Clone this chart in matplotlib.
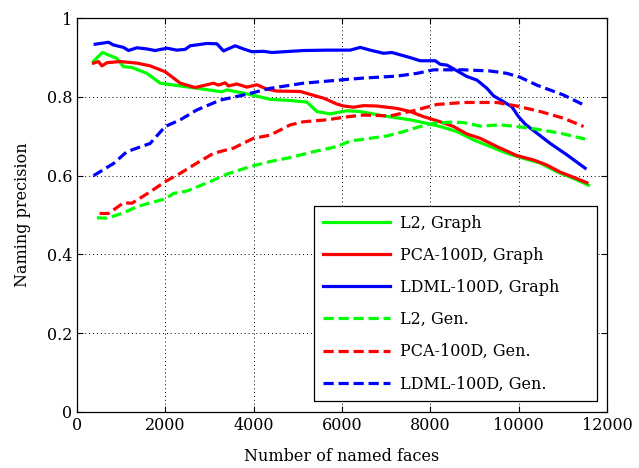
import matplotlib
matplotlib.use('Agg')
import matplotlib.pyplot as plt

plt.rcParams['font.family'] = ['DejaVu Serif']

# L2, Graph
l2_graph_x = [374, 577, 903, 1053, 1243, 1582, 1884, 2337, 2864, 3280, 3393, 3846, 4374,
              4827, 5205, 5431, 5732, 6110, 6412, 6940, 7543, 7921, 8223, 8601, 8977,
              9355, 9732, 10109, 10487, 10864, 11241, 11580]
l2_graph_y = [0.891, 0.913, 0.898, 0.877, 0.875, 0.860, 0.835, 0.828, 0.820, 0.813, 0.818,
              0.808, 0.794, 0.791, 0.787, 0.763, 0.757, 0.765, 0.763, 0.752, 0.742, 0.733,
              0.725, 0.712, 0.691, 0.674, 0.657, 0.644, 0.632, 0.610, 0.593, 0.576]

# PCA-100D, Graph
pca_graph_x = [374, 487, 563, 676, 978, 1356, 1657, 1997, 2337, 2676, 3091, 3204, 3355,
               3431, 3619, 3846, 4073, 4299, 4525, 5053, 5581, 5884, 6034, 6260, 6487,
               6789, 7242, 7543, 7845, 8223, 8524, 8827, 9128, 9506, 9959, 10336, 10638,
               10940, 11241, 11543]
pca_graph_y = [0.886, 0.890, 0.879, 0.887, 0.890, 0.886, 0.879, 0.864, 0.835, 0.824, 0.835,
               0.830, 0.836, 0.828, 0.833, 0.825, 0.831, 0.820, 0.815, 0.814, 0.797, 0.782,
               0.777, 0.774, 0.778, 0.777, 0.771, 0.763, 0.750, 0.737, 0.725, 0.706, 0.695,
               0.674, 0.651, 0.640, 0.627, 0.609, 0.596, 0.582]

# LDML-100D, Graph
ldml_graph_x = [412, 713, 826, 1053, 1166, 1356, 1582, 1770, 2035, 2261, 2450, 2563, 2941,
                3167, 3317, 3582, 3770, 3960, 4223, 4412, 5128, 5657, 6185, 6412, 6638,
                6940, 7129, 7543, 7770, 8110, 8223, 8374, 8562, 8827, 9053, 9280, 9430,
                9656, 9845, 9996, 10147, 10412, 10713, 11090, 11505]
ldml_graph_y = [0.934, 0.939, 0.932, 0.926, 0.918, 0.925, 0.922, 0.918, 0.924, 0.919, 0.921,
                0.930, 0.936, 0.935, 0.917, 0.930, 0.922, 0.915, 0.916, 0.913, 0.918, 0.919,
                0.919, 0.926, 0.919, 0.911, 0.913, 0.900, 0.892, 0.892, 0.883, 0.881, 0.869,
                0.852, 0.843, 0.822, 0.803, 0.788, 0.775, 0.750, 0.731, 0.708, 0.682, 0.653,
                0.619]

# L2, Gen.
l2_gen_x = [450, 676, 1017, 1356, 1657, 1997, 2186, 2488, 3016, 3393, 3921, 4374, 4827,
            5355, 5884, 6185, 6638, 7016, 7392, 7770, 8072, 8450, 8751, 9128, 9581, 9959,
            10412, 10940, 11505]
l2_gen_y = [0.493, 0.492, 0.504, 0.521, 0.531, 0.541, 0.555, 0.561, 0.585, 0.604, 0.623,
            0.636, 0.646, 0.661, 0.674, 0.688, 0.695, 0.701, 0.712, 0.725, 0.733, 0.736,
            0.735, 0.726, 0.729, 0.725, 0.718, 0.708, 0.693]

# PCA-100D, Gen.
pca_gen_x = [510, 714, 1053, 1243, 1657, 1997, 2337, 2714, 3091, 3543, 3996, 4374, 4827,
             5128, 5657, 6148, 6487, 7091, 7618, 8148, 8751, 9506, 9959, 10487, 11015, 11468]
pca_gen_y = [0.504, 0.504, 0.531, 0.530, 0.559, 0.585, 0.606, 0.632, 0.657, 0.670, 0.695,
             0.703, 0.729, 0.737, 0.742, 0.750, 0.754, 0.752, 0.765, 0.781, 0.786, 0.786,
             0.777, 0.763, 0.746, 0.725]

# LDML-100D, Gen.
ldml_gen_x = [374, 827, 1129, 1657, 1997, 2337, 2714, 3242, 3770, 4374, 5128, 6148, 6487,
              7242, 7695, 8072, 8751, 9355, 9732, 10034, 10412, 11015, 11468]
ldml_gen_y = [0.600, 0.631, 0.661, 0.682, 0.725, 0.742, 0.767, 0.792, 0.805, 0.822, 0.835,
              0.845, 0.848, 0.853, 0.860, 0.869, 0.869, 0.866, 0.860, 0.850, 0.830, 0.805,
              0.780]

fig = plt.figure(figsize=(6.39, 4.68), dpi=100)
ax = fig.add_axes([0.1205, 0.120, 0.8295, 0.841])

lw = 2.3
dash = (0, (3.2, 1.5))
ax.plot(l2_graph_x, l2_graph_y, color='#00ff00', lw=lw, label='L2, Graph')
ax.plot(pca_graph_x, pca_graph_y, color='#ff0000', lw=lw, label='PCA-100D, Graph')
ax.plot(ldml_graph_x, ldml_graph_y, color='#0000ff', lw=lw, label='LDML-100D, Graph')
ax.plot(l2_gen_x, l2_gen_y, color='#00ff00', lw=lw, ls=dash, label='L2, Gen.')
ax.plot(pca_gen_x, pca_gen_y, color='#ff0000', lw=lw, ls=dash, label='PCA-100D, Gen.')
ax.plot(ldml_gen_x, ldml_gen_y, color='#0000ff', lw=lw, ls=dash, label='LDML-100D, Gen.')

ax.set_xlim(0, 12000)
ax.set_ylim(0, 1)
ax.set_xticks(range(0, 12001, 2000))
ax.set_yticks([0, 0.2, 0.4, 0.6, 0.8, 1])
ax.set_yticklabels(['0', '0.2', '0.4', '0.6', '0.8', '1'])
ax.tick_params(direction='in', labelsize=11.5, length=4, top=True, right=True)
ax.grid(True, color='black', ls=(0, (1, 3)), lw=0.7)
for s in ax.spines.values():
    s.set_linewidth(0.9)

ax.set_xlabel('Number of named faces', fontsize=11.5, labelpad=10)
ax.set_ylabel('Naming precision', fontsize=11.5, labelpad=11)

# legend box stretched to the width it has in the original
leg = ax.legend(loc='lower left', bbox_to_anchor=(0.4475, 0.027, 0.5335, 0.5), mode='expand',
                borderaxespad=0, fontsize=11.5, handlelength=4.2, handletextpad=0.6,
                labelspacing=0.95, borderpad=0.55,
                fancybox=False, framealpha=1, edgecolor='black')
leg.get_frame().set_linewidth(0.9)

fig.savefig('out.png', dpi=100, facecolor='white')
